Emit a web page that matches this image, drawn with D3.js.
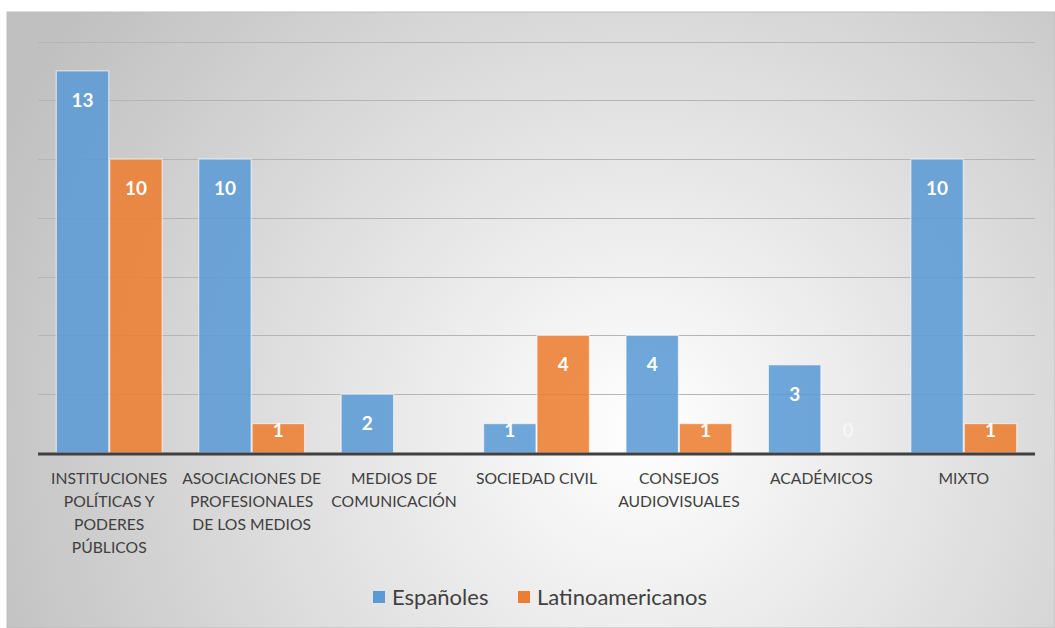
<!DOCTYPE html>
<html><head><meta charset="utf-8">
<script src="https://cdn.jsdelivr.net/npm/d3@7"></script>
<style>html,body{margin:0;padding:0;background:#fff;}svg{display:block;}</style>
</head><body>
<svg id="chart" width="1055" height="628"></svg>
<script>
const categories = [
  ["INSTITUCIONES","POLÍTICAS Y","PODERES","PÚBLICOS"],
  ["ASOCIACIONES DE","PROFESIONALES","DE LOS MEDIOS"],
  ["MEDIOS DE","COMUNICACIÓN"],
  ["SOCIEDAD CIVIL"],
  ["CONSEJOS","AUDIOVISUALES"],
  ["ACADÉMICOS"],
  ["MIXTO"]
];
const seriesNames = ["Españoles","Latinoamericanos"];
const espanoles = [13, 10, 2, 1, 4, 3, 10];
const latinoamericanos = [10, 1, null, 4, 1, 0, 1];
const gridTicks = [0,2,4,6,8,10,12,14];
const colors = ["#5b9bd5","#ed7d31"];

const svg = d3.select("#chart");
const defs = svg.append("defs");
const rg = defs.append("radialGradient").attr("id","bg")
  .attr("gradientUnits","userSpaceOnUse").attr("cx",640).attr("cy",430).attr("r",700);
rg.append("stop").attr("offset","0").attr("stop-color","#ffffff");
rg.append("stop").attr("offset","1").attr("stop-color","#c0c0c0");

svg.append("rect").attr("x",7).attr("y",12).attr("width",1048).attr("height",616)
  .attr("fill","url(#bg)").attr("stroke","#bdbdbd").attr("stroke-width",1);

const x0 = d3.scaleBand().domain(d3.range(categories.length)).range([38,1035]).paddingInner(0.25).paddingOuter(0.125);
const x1 = d3.scaleBand().domain([0,1]).range([0,x0.bandwidth()]);
const y = d3.scaleLinear().domain([0,14]).range([453,41.5]);

svg.append("g").selectAll("line").data(gridTicks.filter(d=>d>0)).join("line")
  .attr("x1",38).attr("x2",1035).attr("y1",d=>Math.round(y(d))+0.5).attr("y2",d=>Math.round(y(d))+0.5)
  .attr("stroke","#b5b5b5").attr("stroke-width",1.2);

const data = [];
categories.forEach((c,i)=>{
  [espanoles[i],latinoamericanos[i]].forEach((v,s)=>{ data.push({i,s,v}); });
});

const bars = svg.append("g");
bars.selectAll("rect").data(data.filter(d=>d.v!=null && d.v>0)).join("rect")
  .attr("x",d=>x0(d.i)+x1(d.s)+0.5).attr("width",x1.bandwidth()-1)
  .attr("y",d=>y(d.v)).attr("height",d=>y(0)-y(d.v))
  .attr("fill",d=>colors[d.s]).attr("fill-opacity",0.88)
  .attr("stroke","#ffffff").attr("stroke-opacity",0.6).attr("stroke-width",1.2);

svg.append("line").attr("x1",38).attr("x2",1035).attr("y1",y(0)+1).attr("y2",y(0)+1)
  .attr("stroke","#404040").attr("stroke-width",3);

svg.append("g").selectAll("text").data(data.filter(d=>d.v!=null)).join("text")
  .attr("x",d=>x0(d.i)+x1(d.s)+x1.bandwidth()/2)
  .attr("y",d=>Math.min(y(d.v)+29, y(0)-23))
  .attr("dy","0.36em").attr("text-anchor","middle")
  .attr("font-family","Lato, 'Open Sans', sans-serif").attr("font-weight","bold").attr("font-size",19)
  .attr("fill","#ffffff").attr("fill-opacity",d=>d.v===0?0.55:1)
  .text(d=>d.v);

const cat = svg.append("g").selectAll("text").data(categories).join("text")
  .attr("text-anchor","middle")
  .attr("font-family","Lato, 'Open Sans', sans-serif").attr("font-size",15.7).attr("fill","#404040");
cat.each(function(lines,i){
  const t = d3.select(this);
  lines.forEach((l,k)=>{
    t.append("tspan").attr("x",x0(i)+x0.bandwidth()/2).attr("y",484+k*23).text(l);
  });
});

const legendItems = [{n:seriesNames[0],c:colors[0],x:373},{n:seriesNames[1],c:colors[1],x:518}];
const lg = svg.append("g");
legendItems.forEach(it=>{
  lg.append("rect").attr("x",it.x).attr("y",591).attr("width",12).attr("height",12).attr("fill",it.c);
  lg.append("text").attr("x",it.x+19).attr("y",605)
    .attr("font-family","Lato, 'Open Sans', sans-serif").attr("font-size",22).attr("fill","#404040").text(it.n);
});
</script>
</body></html>
